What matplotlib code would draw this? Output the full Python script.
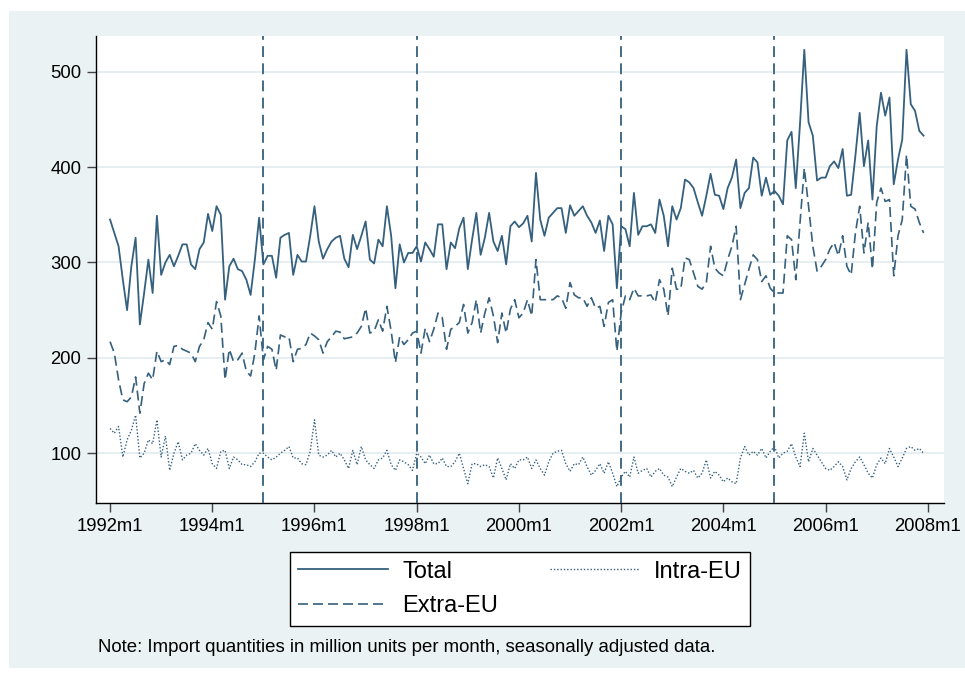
import numpy as np
import matplotlib
matplotlib.use("Agg")
import matplotlib.pyplot as plt
from matplotlib.patches import Rectangle

plt.rcParams['font.family'] = ['Liberation Sans', 'DejaVu Sans']

# Monthly import quantities 1992m1 - 2007m12 (million units, seasonally adjusted)
total = [
    345, 331, 317, 282, 250, 296, 326, 235, 268, 303, 268, 349, 287, 300, 308, 296,
    307, 319, 319, 298, 293, 314, 321, 351, 333, 359, 350, 261, 296, 304, 293, 291,
    282, 266, 303, 347, 298, 307, 307, 284, 326, 329, 331, 287, 308, 301, 301, 328,
    359, 322, 304, 314, 322, 326, 328, 304, 295, 329, 314, 328, 343, 303, 299, 324,
    317, 359, 328, 273, 319, 300, 310, 310, 317, 301, 321, 314, 306, 340, 340, 293,
    321, 315, 336, 347, 293, 324, 352, 308, 326, 352, 322, 312, 328, 298, 338, 343,
    337, 341, 349, 322, 394, 345, 328, 347, 352, 357, 357, 331, 360, 349, 354, 359,
    349, 342, 331, 344, 312, 349, 340, 273, 338, 335, 317, 373, 329, 338, 338, 340,
    331, 366, 349, 317, 359, 345, 357, 387, 384, 378, 363, 349, 370, 393, 371, 370,
    356, 378, 389, 408, 357, 373, 378, 410, 405, 370, 389, 371, 375, 370, 361, 428,
    437, 378, 446, 523, 447, 433, 386, 389, 389, 401, 406, 399, 419, 370, 371, 412,
    457, 401, 428, 366, 443, 478, 454, 473, 382, 408, 429, 523, 466, 459, 438, 433,
]
extra_eu = [
    217, 205, 177, 156, 154, 159, 180, 142, 173, 184, 177, 207, 196, 198, 193, 212,
    213, 209, 207, 205, 196, 212, 219, 237, 230, 259, 244, 177, 209, 196, 198, 205,
    186, 181, 205, 244, 198, 212, 209, 187, 224, 222, 222, 196, 209, 210, 214, 226,
    223, 219, 205, 217, 222, 228, 227, 220, 221, 222, 226, 233, 252, 226, 228, 240,
    228, 254, 228, 195, 222, 214, 219, 226, 228, 205, 231, 217, 230, 247, 242, 209,
    230, 233, 237, 256, 226, 237, 261, 226, 247, 263, 244, 216, 247, 226, 251, 261,
    242, 247, 261, 244, 303, 261, 261, 261, 261, 265, 263, 252, 279, 266, 263, 263,
    254, 263, 252, 254, 233, 258, 261, 207, 247, 265, 261, 273, 265, 265, 265, 266,
    258, 282, 272, 244, 294, 272, 272, 305, 303, 289, 275, 272, 279, 317, 294, 289,
    286, 303, 317, 338, 261, 277, 293, 308, 303, 280, 286, 273, 268, 268, 268, 328,
    324, 282, 342, 399, 359, 317, 291, 296, 303, 314, 321, 307, 328, 296, 287, 331,
    359, 310, 342, 293, 363, 378, 364, 366, 286, 328, 345, 413, 359, 356, 342, 331,
]
intra_eu = [
    126, 121, 128, 96, 114, 124, 140, 95, 100, 114, 110, 135, 96, 118, 82, 100,
    112, 93, 98, 100, 110, 103, 98, 105, 89, 84, 102, 103, 84, 96, 93, 88,
    88, 86, 91, 100, 100, 96, 93, 96, 100, 103, 107, 95, 95, 89, 88, 102,
    135, 98, 96, 98, 103, 96, 100, 93, 84, 103, 88, 107, 93, 88, 84, 93,
    95, 103, 88, 82, 93, 91, 88, 82, 100, 96, 89, 98, 89, 89, 95, 86,
    86, 91, 100, 84, 68, 89, 89, 86, 88, 86, 74, 95, 84, 72, 89, 84,
    93, 93, 96, 84, 93, 84, 77, 91, 100, 102, 103, 89, 81, 89, 88, 96,
    86, 77, 82, 89, 79, 91, 79, 65, 75, 81, 75, 96, 79, 82, 84, 75,
    81, 84, 77, 75, 65, 75, 84, 81, 79, 82, 74, 79, 93, 74, 81, 77,
    70, 74, 70, 68, 95, 107, 98, 102, 98, 105, 95, 102, 107, 95, 100, 102,
    110, 96, 86, 121, 91, 105, 98, 91, 84, 82, 86, 91, 86, 72, 84, 91,
    96, 88, 79, 74, 88, 95, 89, 105, 96, 86, 95, 105, 107, 103, 105, 100,
]

# x axis is months since 1992m1 (Stata style monthly dates)
months = np.arange(len(total))
tick_labels = ['1992m1', '1994m1', '1996m1', '1998m1', '2000m1',
               '2002m1', '2004m1', '2006m1', '2008m1']
tick_months = [24 * i for i in range(len(tick_labels))]
# 1995m1, 1998m1, 2002m1, 2005m1
break_months = [36, 72, 120, 156]
y_ticks = [100, 200, 300, 400, 500]

line_color = '#35607e'
panel_color = '#eaf2f3'

W, H = 965, 677
fig = plt.figure(figsize=(W / 100, H / 100), dpi=100)
fig.patch.set_facecolor('white')

# Light bluish graph region behind the plot
fig.patches.append(Rectangle((9 / W, 9 / H), (W - 9) / W, 657 / H,
                             transform=fig.transFigure, facecolor=panel_color,
                             edgecolor='none', zorder=-5))

ax = fig.add_axes([96 / W, 1 - 503 / H, 848 / W, 467 / H])
ax.set_facecolor('white')

# Series
ax.plot(months, total, '-', color=line_color, lw=1.3, label='Total')
ax.plot(months, extra_eu, color=line_color, lw=1.2, dashes=(6, 3), label='Extra-EU')
ax.plot(months, intra_eu, color=line_color, lw=1.0, dashes=(1, 1.4), label='Intra-EU')

# Vertical reference lines
for m in break_months:
    ax.axvline(m, color=line_color, lw=1.3, dashes=(6, 3.5), zorder=3)

ax.set_xlim(-3.3, 195.8)
ax.set_ylim(47.8, 537.5)
ax.set_xticks(tick_months)
ax.set_xticklabels(tick_labels)
ax.set_yticks(y_ticks)

ax.grid(axis='y', color='#e4edf0', lw=1.3)
ax.set_axisbelow(True)
for side in ['top', 'right']:
    ax.spines[side].set_visible(False)
for side in ['left', 'bottom']:
    ax.spines[side].set_color('black')
    ax.spines[side].set_linewidth(1.0)
ax.tick_params(axis='both', direction='out', length=6.5, width=1.0,
               color='#444444', labelsize=13.3, pad=4)

# Legend in column order: Total / Extra-EU, then Intra-EU
handles, labels = ax.get_legend_handles_labels()
leg = ax.legend(handles, labels, ncol=2, loc='center',
                bbox_to_anchor=(520 / W, 1 - 589 / H), bbox_transform=fig.transFigure,
                fontsize=17, frameon=True, fancybox=False, edgecolor='black',
                framealpha=1, handlelength=3.8, handletextpad=0.6,
                columnspacing=2.2, labelspacing=0.55, borderpad=0.35)
leg.get_frame().set_linewidth(1.0)

fig.text(98 / W, 1 - 648 / H,
         'Note: Import quantities in million units per month, seasonally adjusted data.',
         ha='left', va='center', fontsize=13.4)

plt.savefig('out.png', dpi=100)
